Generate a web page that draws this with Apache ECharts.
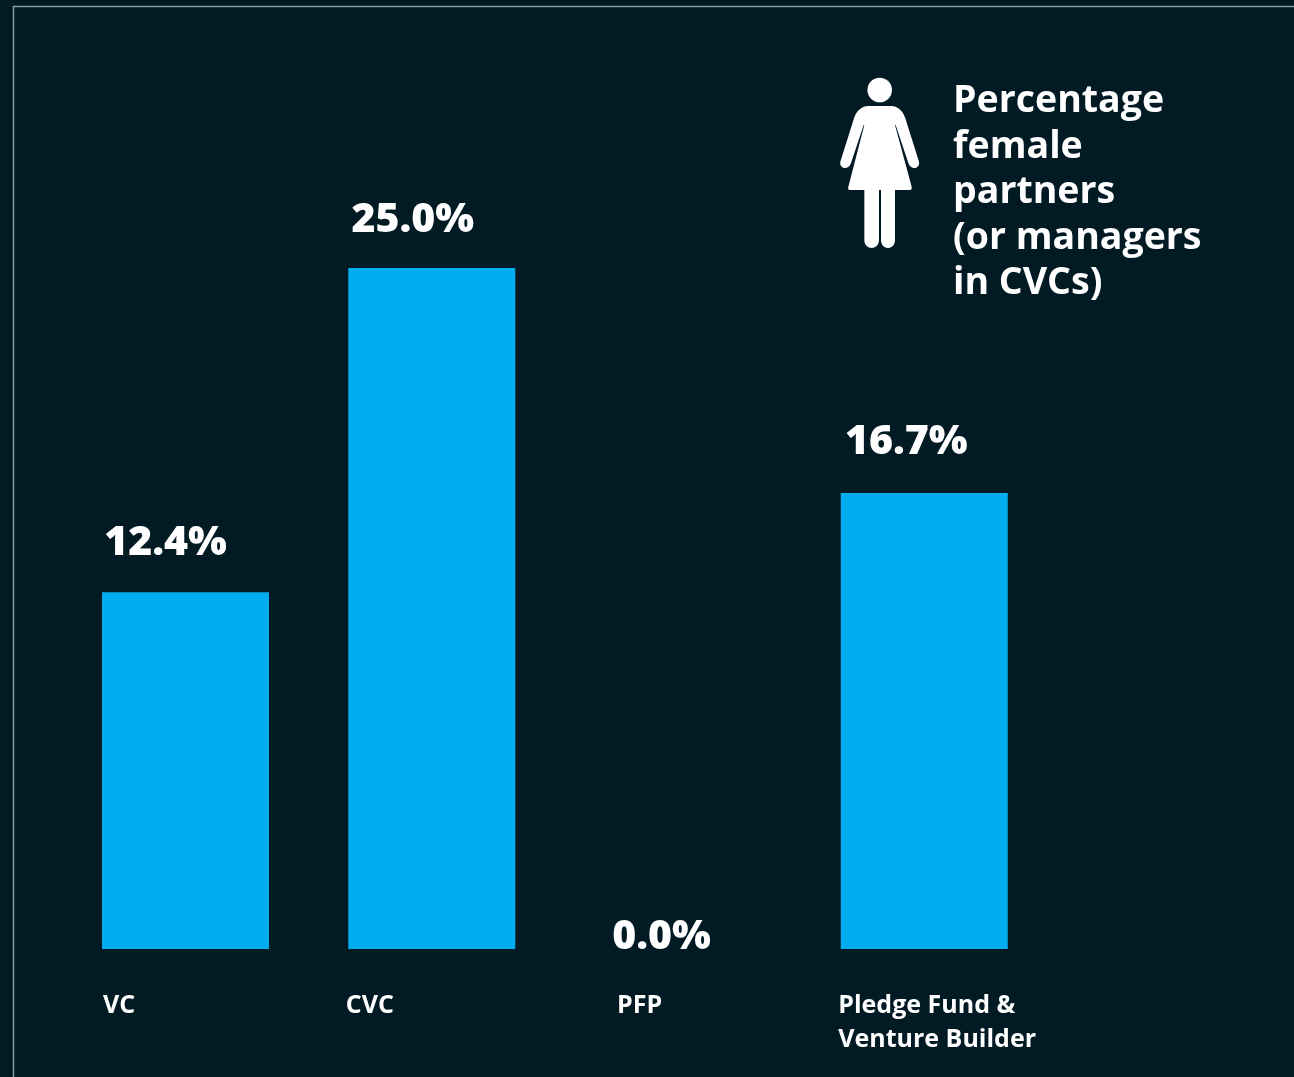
<!DOCTYPE html>
<html>
<head>
<meta charset="utf-8">
<style>html,body{margin:0;padding:0;background:#011a24;}#c{width:1294px;height:1077px;}</style>
<script src="https://cdn.jsdelivr.net/npm/echarts@6/dist/echarts.min.js"></script>
</head>
<body>
<div id="c"></div>
<script>
const categories = ['VC', 'CVC', 'PFP', 'Pledge Fund &\nVenture Builder'];
const barValues = [13.1, 25.0, 0, 16.74];
const valueLabels = ['12.4%', '25.0%', '0.0%', '16.7%'];
const legendLines = ['Percentage', 'female', 'partners', '(or managers', 'in CVCs)'];

const font = '"Open Sans", "Noto Sans", sans-serif';
const labelShift = [[-20, 0], [-19, 0], [-16.5, 0], [-18, 0]];
const labelDistance = [28, 27, -9, 30];
const catLeft = [7, 0, 50, 0];

const figure = 'M145 138L213 138C235 138 250 155 256 175L297 305C301 325 275 332 266 312L227 195L225 195L275 380Q277 390 267 390L225 390L225 540C225 572 183 572 183 540L183 390L177 390L177 540C177 572 133 572 133 540L133 390L92 390Q82 390 85 380L133 195L131 195L92 312C83 332 57 325 61 305L102 175C108 155 123 138 145 138Z';
echarts.graphic.registerShape('womanFigure', echarts.graphic.extendPath(figure));

const chart = echarts.init(document.getElementById('c'), null, {renderer: 'canvas'});
chart.setOption({
  animation: false,
  backgroundColor: '#011a24',
  title: {
    text: legendLines.join('\n'),
    left: 953, top: 79, padding: 0,
    textStyle: {color: '#fff', fontFamily: font, fontSize: 37.5, fontWeight: 700, lineHeight: 45.5}
  },
  grid: {left: 62.4, width: 985, top: 268, height: 681},
  xAxis: {
    type: 'category',
    data: categories,
    axisLine: {show: false},
    axisTick: {show: false},
    axisLabel: {
      interval: 0,
      margin: 40,
      align: 'center',
      verticalAlign: 'top',
      color: '#fff',
      formatter: function (v, i) {
        return v.split('\n').map(s => '{c' + i + '|' + s + '}').join('\n');
      },
      rich: Object.fromEntries(categories.map((c, i) => ['c' + i, {
        width: 172,
        align: 'left',
        padding: [0, 0, 0, catLeft[i]],
        color: '#fff',
        fontFamily: font,
        fontSize: 25,
        fontWeight: 700,
        lineHeight: 34
      }]))
    }
  },
  yAxis: {type: 'value', min: 0, max: 25, show: false},
  series: [{
    type: 'bar',
    barWidth: 167,
    itemStyle: {color: '#00aeef'},
    data: barValues.map((v, i) => ({
      value: v,
      label: {
        show: true,
        position: 'top',
        distance: labelDistance[i],
        offset: labelShift[i],
        formatter: valueLabels[i],
        color: '#fff',
        fontFamily: font,
        fontSize: 41,
        fontWeight: 800
      }
    }))
  }],
  graphic: [
    {type: 'polyline', silent: true, shape: {points: [[13.5, 1077], [13.5, 6.5], [1294, 6.5]]},
      style: {fill: null, stroke: '#8a9a9f', lineWidth: 1.5}},
    {type: 'circle', silent: true, shape: {cx: 879.7, cy: 90, r: 12.3}, style: {fill: '#fff'}},
    {type: 'womanFigure', silent: true, x: 820, y: 60, scaleX: 1 / 3, scaleY: 1 / 3, style: {fill: '#fff'}}
  ]
});
</script>
</body>
</html>
